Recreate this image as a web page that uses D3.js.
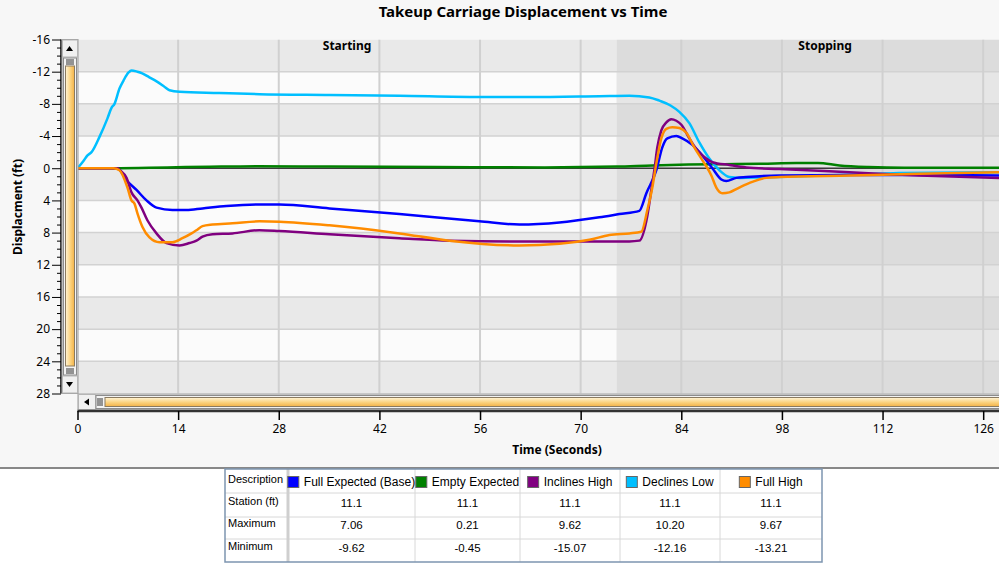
<!DOCTYPE html>
<html><head><meta charset="utf-8">
<script src="https://cdn.jsdelivr.net/npm/d3@7"></script>
<style>
html,body{margin:0;padding:0;background:#f7f7f7;}
svg{display:block;font-family:"Segoe UI","Noto Sans","Open Sans",sans-serif;}
</style></head>
<body>
<svg id="chart" width="999" height="564"></svg>
<script>
// ---------- data ----------
const chartTitle = "Takeup Carriage Displacement vs Time";
const xTicks = [0, 14, 28, 42, 56, 70, 84, 98, 112, 126];
const yTicks = [-16, -12, -8, -4, 0, 4, 8, 12, 16, 20, 24, 28];
const regionNames = ["Starting", "Stopping"];
const regionStart = [0, 75];
const regionEnd = [75, 133];

const seriesNames = ["Full Expected (Base)", "Empty Expected", "Inclines High", "Declines Low", "Full High"];
const seriesColors = ["#0000ff", "#008000", "#800080", "#00bfff", "#ff8c00"];

const fullExpectedT = [0, 5.3, 5.84, 6.82, 8.21, 9.6, 10.99, 13.21, 15.16, 17.39, 20.72, 25.31, 28.09, 35.05, 44.78, 55.91, 61.47, 67.04, 72.6, 75.38, 78.16, 79.14, 80.53, 81.36, 82.06, 83.31, 84.14, 85.54, 86.93, 88.32, 89.57, 90.26, 91.66, 93.05, 97.64, 107.4, 117.1, 128.2];
const fullExpectedV = [0, 0, 0.2, 1.5, 2.7, 4.0, 4.9, 5.2, 5.2, 5.0, 4.7, 4.5, 4.5, 5.0, 5.7, 6.6, 7.0, 6.75, 6.1, 5.7, 5.3, 3.1, 0.25, -2.6, -3.7, -4.0, -3.7, -2.9, -1.6, 0, 1.4, 1.6, 1.2, 1.1, 0.9, 0.85, 0.85, 0.9];

const emptyExpectedT = [0, 5, 10, 15, 20, 25, 35, 50, 65, 75, 80, 85, 90, 95, 100, 103, 106, 110, 115, 128.2];
const emptyExpectedV = [0, 0, -0.05, -0.15, -0.2, -0.25, -0.2, -0.15, -0.1, -0.2, -0.35, -0.45, -0.5, -0.55, -0.65, -0.65, -0.35, -0.15, -0.05, -0.05];

const inclinesHighT = [0, 5.6, 5.84, 6.82, 7.51, 8.34, 8.9, 9.74, 10.99, 12.38, 14.19, 15.58, 16.55, 17.39, 18.78, 21.56, 25.31, 28.09, 35.05, 44.78, 51.74, 61.47, 72.6, 76.77, 78.16, 79.28, 79.83, 80.25, 80.67, 81.22, 81.92, 82.61, 83.31, 84.01, 85.12, 86.23, 87.48, 88.32, 90.68, 93.05, 97.64, 107.4, 117.1, 128.2];
const inclinesHighV = [0, 0, 0.2, 1.2, 3.0, 4.0, 4.9, 6.5, 8.1, 9.3, 9.6, 9.3, 9.0, 8.5, 8.2, 8.1, 7.7, 7.8, 8.2, 8.7, 9.0, 9.1, 9.1, 9.1, 9.0, 5.9, 2.7, 0.25, -2.6, -4.7, -5.7, -6.1, -5.9, -5.4, -3.7, -2.2, -1.2, -0.75, -0.4, -0.1, 0.1, 0.5, 0.9, 1.2];

const declinesLowT = [0, 0.83, 1.39, 1.95, 3.06, 4.17, 4.73, 5.15, 5.84, 6.4, 7.1, 7.51, 8.34, 9.0, 10.0, 11.0, 12.0, 12.8, 14.2, 19.7, 25.31, 35.05, 44.78, 55.91, 62.9, 72.6, 76.77, 79.55, 80.95, 82.5, 83.73, 85.12, 86.51, 87.9, 89.3, 90.68, 92.07, 95, 100.4, 107.4, 114.3, 128.2];
const declinesLowV = [0, -0.9, -1.6, -2.0, -3.9, -6.2, -7.5, -8.0, -9.9, -10.9, -11.9, -12.16, -12.0, -11.8, -11.3, -10.8, -10.2, -9.7, -9.5, -9.35, -9.2, -9.1, -9.0, -8.85, -8.85, -8.95, -9.0, -8.8, -8.4, -7.8, -7.0, -5.6, -3.2, -1.2, 0.25, 1.1, 1.2, 1.15, 1.0, 0.8, 0.6, 0.5];

const fullHighT = [0, 5.0, 5.84, 6.95, 7.51, 7.93, 8.34, 9.04, 10.01, 11.4, 13.21, 14.6, 15.86, 16.55, 17.39, 18.78, 21.56, 25.31, 28.09, 35.05, 44.78, 51.74, 61.47, 67.04, 71.21, 73.99, 76.77, 78.44, 79.28, 79.97, 80.53, 81.22, 81.92, 82.75, 83.73, 84.7, 85.81, 86.93, 88.18, 88.87, 89.71, 90.68, 92.07, 93.88, 95.83, 97.64, 107.4, 117.1, 128.2];
const fullHighV = [0, 0, 0.25, 2.4, 4.0, 4.4, 5.6, 7.3, 8.6, 9.2, 9.2, 8.7, 8.1, 7.7, 7.2, 7.0, 6.85, 6.6, 6.65, 7.1, 8.1, 9.0, 9.6, 9.4, 8.9, 8.3, 8.1, 7.9, 5.2, 2.4, -0.6, -3.7, -4.9, -5.1, -5.0, -4.4, -2.6, -1.0, 0.9, 2.4, 3.1, 3.0, 2.4, 1.7, 1.2, 1.1, 0.9, 0.7, 0.5];

const tableRowLabels = ["Description", "Station (ft)", "Maximum", "Minimum"];
const stationValues = ["11.1", "11.1", "11.1", "11.1", "11.1"];
const maximumValues = ["7.06", "0.21", "9.62", "10.20", "9.67"];
const minimumValues = ["-9.62", "-0.45", "-15.07", "-12.16", "-13.21"];

// ---------- build ----------
const seriesT = [fullExpectedT, emptyExpectedT, inclinesHighT, declinesLowT, fullHighT];
const seriesV = [fullExpectedV, emptyExpectedV, inclinesHighV, declinesLowV, fullHighV];
const series = seriesNames.map((n, i) => ({name: n, color: seriesColors[i],
  pts: seriesT[i].map((t, j) => ({t: t, v: seriesV[i][j]}))}));

const svg = d3.select("#chart");
const W = 999, H = 564;
const plot = {l: 77.5, r: 999, t: 39.5, b: 393.5};
const x = d3.scaleLinear().domain([0, 128.2]).range([plot.l, plot.r]);
const y = d3.scaleLinear().domain([-16, 28]).range([plot.t, plot.b]);
const tblFont = "'Liberation Sans', Arial, sans-serif";

svg.append("rect").attr("width", W).attr("height", H).attr("fill", "#f7f7f7");

const defs = svg.append("defs");
defs.append("clipPath").attr("id", "clip").append("rect")
  .attr("x", plot.l).attr("y", plot.t).attr("width", plot.r - plot.l).attr("height", plot.b - plot.t);
const gv = defs.append("linearGradient").attr("id", "gradV").attr("x1", 0).attr("x2", 1).attr("y1", 0).attr("y2", 0);
gv.append("stop").attr("offset", "0%").attr("stop-color", "#fff4d6");
gv.append("stop").attr("offset", "55%").attr("stop-color", "#fbd27e");
gv.append("stop").attr("offset", "100%").attr("stop-color", "#f3b247");
const gh = defs.append("linearGradient").attr("id", "gradH").attr("x1", 0).attr("x2", 0).attr("y1", 0).attr("y2", 1);
gh.append("stop").attr("offset", "0%").attr("stop-color", "#fff4d6");
gh.append("stop").attr("offset", "55%").attr("stop-color", "#fbd27e");
gh.append("stop").attr("offset", "100%").attr("stop-color", "#f3b247");

// title
svg.append("text").attr("x", 523).attr("y", 17).attr("text-anchor", "middle")
  .attr("font-size", 15).attr("font-weight", "bold").attr("fill", "#000").text(chartTitle);

// plot background: region x bands
const pg = svg.append("g").attr("clip-path", "url(#clip)");
const bandEdges = d3.range(yTicks.length - 1).map(i => [yTicks[i], yTicks[i + 1], i]);
const regionFill = [["#e9e9e9", "#fbfbfb"], ["#dcdcdc", "#e6e6e6"]];
regionNames.forEach((rn, ri) => {
  bandEdges.forEach(([a, b, i]) => {
    pg.append("rect").attr("x", x(regionStart[ri])).attr("y", y(a))
      .attr("width", x(regionEnd[ri]) - x(regionStart[ri])).attr("height", y(b) - y(a))
      .attr("fill", regionFill[ri][i % 2 === 0 ? 0 : 1]);
  });
});
// horizontal band lines
yTicks.slice(1, -1).forEach(v => {
  pg.append("line").attr("x1", plot.l).attr("x2", plot.r).attr("y1", y(v)).attr("y2", y(v))
    .attr("stroke", "#d2d2d2").attr("stroke-width", 1.5);
});
// vertical gridlines
xTicks.slice(1).forEach(t => {
  pg.append("line").attr("x1", x(t)).attr("x2", x(t)).attr("y1", plot.t).attr("y2", plot.b)
    .attr("stroke", "#d0d0d0").attr("stroke-width", 2);
});
// region labels
regionNames.forEach((rn, ri) => {
  pg.append("text").attr("x", x((regionStart[ri] + regionEnd[ri]) / 2)).attr("y", 50)
    .attr("text-anchor", "middle").attr("font-size", 12).attr("font-weight", "bold").text(rn);
});
// zero line
pg.append("line").attr("x1", plot.l).attr("x2", plot.r).attr("y1", y(0)).attr("y2", y(0))
  .attr("stroke", "#3a3a3a").attr("stroke-width", 1.5);

// series
const line = d3.line().x(d => x(d.t)).y(d => y(d.v)).curve(d3.curveMonotoneX);
const drawOrder = [1, 3, 0, 2, 4];
drawOrder.forEach(i => {
  pg.append("path").datum(series[i].pts).attr("d", line).attr("fill", "none")
    .attr("stroke", series[i].color).attr("stroke-width", 2.5).attr("stroke-linejoin", "round");
});

// y axis
const yAxis = d3.axisLeft(y).tickValues(d3.range(-16, 29, 1)).tickSize(4)
  .tickFormat(d => (d % 4 === 0 ? d : ""));
const ya = svg.append("g").attr("transform", "translate(61,0)").call(yAxis);
ya.selectAll(".tick line").attr("stroke", "#000").attr("x2", d => (d % 4 === 0 ? -9 : -4));
ya.selectAll(".tick text").attr("x", -11).attr("font-size", 12).attr("fill", "#000")
  .attr("font-family", "'Segoe UI','Noto Sans',sans-serif");
ya.select(".domain").attr("stroke", "#000").attr("stroke-width", 1.5).attr("d", `M0,${plot.t}V${plot.b}`);

svg.append("text").attr("transform", `translate(22,207) rotate(-90)`)
  .attr("text-anchor", "middle").attr("font-size", 12).attr("font-weight", "bold").text("Displacment (ft)");

// vertical scrollbar
const vs = svg.append("g");
vs.append("rect").attr("x", 62).attr("y", plot.t).attr("width", 16).attr("height", plot.b - plot.t)
  .attr("fill", "#e4e4e4").attr("stroke", "#9a9a9a").attr("stroke-width", 1);
vs.append("rect").attr("x", 62.5).attr("y", 40).attr("width", 15).attr("height", 17).attr("fill", "#f0f0f0").attr("stroke", "#b5b5b5");
vs.append("path").attr("d", "M66,51L73,51L69.5,46Z").attr("fill", "#000");
vs.append("rect").attr("x", 62.5).attr("y", 376).attr("width", 15).attr("height", 17).attr("fill", "#f0f0f0").attr("stroke", "#b5b5b5");
vs.append("path").attr("d", "M66,382L73,382L69.5,387Z").attr("fill", "#000");
vs.append("rect").attr("x", 63.5).attr("y", 58).attr("width", 13).attr("height", 317).attr("fill", "#f3f3f3").attr("stroke", "#8c8c8c");
[60, 62, 64].forEach(yy => vs.append("line").attr("x1", 66).attr("x2", 74).attr("y1", yy).attr("y2", yy).attr("stroke", "#333"));
[369, 371, 373].forEach(yy => vs.append("line").attr("x1", 66).attr("x2", 74).attr("y1", yy).attr("y2", yy).attr("stroke", "#333"));
vs.append("rect").attr("x", 65.5).attr("y", 66).attr("width", 9).attr("height", 300).attr("fill", "url(#gradV)").attr("stroke", "#8a7a60");

// horizontal scrollbar
const hs = svg.append("g");
hs.append("rect").attr("x", 78).attr("y", 394).attr("width", 925).attr("height", 16)
  .attr("fill", "#e4e4e4").attr("stroke", "#9a9a9a");
hs.append("rect").attr("x", 78.5).attr("y", 394.5).attr("width", 17).attr("height", 15).attr("fill", "#f0f0f0").attr("stroke", "#b5b5b5");
hs.append("path").attr("d", "M84,402L89,398.5L89,405.5Z").attr("fill", "#000");
hs.append("rect").attr("x", 96).attr("y", 395.5).attr("width", 910).attr("height", 13).attr("fill", "#f3f3f3").attr("stroke", "#8c8c8c");
[98, 100, 102].forEach(xx => hs.append("line").attr("x1", xx).attr("x2", xx).attr("y1", 398).attr("y2", 406).attr("stroke", "#333"));
hs.append("rect").attr("x", 105).attr("y", 397.5).attr("width", 900).attr("height", 9).attr("fill", "url(#gradH)").attr("stroke", "#8a7a60");

// x axis
const xAxis = d3.axisBottom(x).tickValues(xTicks).tickSize(9).tickSizeOuter(0);
const xa = svg.append("g").attr("transform", "translate(0,411)").call(xAxis);
xa.select(".domain").attr("stroke", "#333").attr("stroke-width", 2.5).attr("d", `M${plot.l},0H${plot.r}`);
xa.selectAll(".tick line").attr("stroke", "#000").attr("stroke-width", 1.5);
xa.selectAll(".tick text").attr("y", 13).attr("font-size", 12).attr("fill", "#000")
  .attr("font-family", "'Segoe UI','Noto Sans',sans-serif");
svg.append("text").attr("x", 557).attr("y", 454).attr("text-anchor", "middle")
  .attr("font-size", 12).attr("font-weight", "bold").text("Time (Seconds)");

// separator + table area
svg.append("rect").attr("x", 0).attr("y", 468).attr("width", W).attr("height", H - 468).attr("fill", "#ffffff");
svg.append("line").attr("x1", 0).attr("x2", W).attr("y1", 468).attr("y2", 468).attr("stroke", "#888").attr("stroke-width", 2);

const colX = [225, 288, 415, 520, 620, 720, 822];
const rowY = [469, 493, 517, 539, 562];
const tb = svg.append("g").attr("font-family", tblFont);
tb.append("rect").attr("x", colX[0]).attr("y", rowY[0]).attr("width", colX[6] - colX[0]).attr("height", rowY[4] - rowY[0]).attr("fill", "#fff");
rowY.slice(1, -1).forEach(yy => tb.append("line").attr("x1", colX[0]).attr("x2", colX[6]).attr("y1", yy).attr("y2", yy).attr("stroke", "#d8d8d8"));
colX.slice(2, -1).forEach(xx => tb.append("line").attr("x1", xx).attr("x2", xx).attr("y1", rowY[0]).attr("y2", rowY[4]).attr("stroke", "#d8d8d8"));
tb.append("rect").attr("x", 286.5).attr("y", rowY[0]).attr("width", 3).attr("height", rowY[4] - rowY[0]).attr("fill", "#cfcfcf");
tb.append("rect").attr("x", colX[0]).attr("y", rowY[0]).attr("width", colX[6] - colX[0]).attr("height", rowY[4] - rowY[0])
  .attr("fill", "none").attr("stroke", "#7d95b0").attr("stroke-width", 1.5);

const textRowY = [485, 507, 529, 552];
tableRowLabels.forEach((lab, r) => {
  tb.append("text").attr("x", 228).attr("y", textRowY[r] - 2).attr("font-size", 11)
    .attr("font-family", tblFont).attr("fill", "#000").text(lab);
});
seriesNames.forEach((n, i) => {
  const cx = (colX[i + 1] + colX[i + 2]) / 2;
  const g = tb.append("g");
  const t = g.append("text").attr("x", 0).attr("y", textRowY[0] + 1).attr("font-size", 12)
    .attr("font-family", tblFont).attr("fill", "#000").text(n);
  const tw = t.node().getComputedTextLength();
  const total = 11 + 5 + tw;
  const sx = cx - total / 2;
  g.append("rect").attr("x", sx).attr("y", 476.5).attr("width", 11).attr("height", 11)
    .attr("fill", seriesColors[i]).attr("stroke", "#666");
  t.attr("x", sx + 16);
  [stationValues, maximumValues, minimumValues].forEach((arr, r) => {
    tb.append("text").attr("x", cx).attr("y", textRowY[r + 1]).attr("text-anchor", "middle")
      .attr("font-size", 11.5).attr("font-family", tblFont).attr("fill", "#000").text(arr[i]);
  });
});
</script>
</body></html>
